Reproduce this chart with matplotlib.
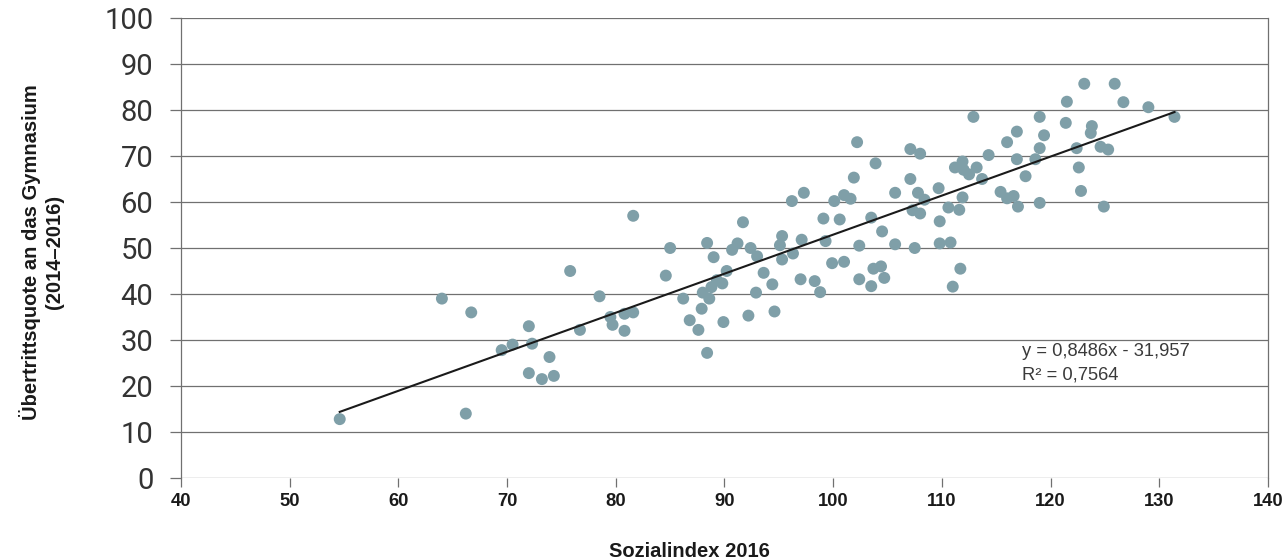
import matplotlib
matplotlib.use("Agg")
import matplotlib.pyplot as plt
import numpy as np

sozialindex = [
    54.6, 64.0, 66.2, 66.7, 69.5, 70.5, 72.0, 72.3, 72.0, 73.2, 73.9, 74.3, 75.8, 76.7,
    78.5, 79.5, 79.7, 80.8, 80.8, 81.6, 81.6, 84.6, 85.0, 86.2, 86.8, 87.6, 87.9, 88.0,
    88.4, 88.4, 88.6, 88.8, 89.0, 89.3, 89.9, 89.8, 90.2, 90.7, 91.2, 91.7, 92.2, 92.4,
    92.9, 93.0, 93.6, 94.4, 94.6, 95.1, 95.3, 95.3, 96.2, 96.3, 97.0, 97.1, 97.3, 98.3,
    98.8, 99.1, 99.3, 99.9, 100.1, 100.6, 101.0, 101.0, 101.6, 101.9, 102.2, 102.4, 102.4,
    103.5, 103.5, 103.7, 103.9, 104.4, 104.5, 104.7, 105.7, 105.7, 107.1, 107.1, 107.3,
    107.5, 107.8, 108.0, 108.0, 108.4, 109.7, 109.8, 109.8, 110.6, 110.8, 111.0, 111.2,
    111.6, 111.7, 111.9, 111.9, 112.0, 112.5, 112.9, 113.2, 113.7, 114.3, 115.4, 116.0,
    116.0, 116.6, 116.9, 116.9, 117.0, 117.7, 118.6, 119.0, 119.0, 119.0, 119.4, 121.4,
    121.5, 122.4, 122.6, 122.8, 123.1, 123.7, 123.8, 124.6, 124.9, 125.3, 125.9, 126.7,
    129.0, 131.4,
]
quote = [
    12.8, 39.0, 14.0, 36.0, 27.8, 29.0, 33.0, 29.2, 22.8, 21.5, 26.3, 22.2, 45.0, 32.2,
    39.5, 35.0, 33.3, 35.7, 32.0, 36.0, 57.0, 44.0, 50.0, 39.0, 34.3, 32.2, 36.8, 40.3,
    51.1, 27.2, 39.0, 41.5, 48.0, 43.0, 33.9, 42.3, 45.0, 49.6, 51.0, 55.6, 35.3, 50.0,
    40.3, 48.2, 44.6, 42.1, 36.2, 50.6, 52.6, 47.5, 60.2, 48.8, 43.2, 51.8, 62.0, 42.8,
    40.4, 56.4, 51.5, 46.7, 60.2, 56.2, 61.5, 47.0, 60.7, 65.3, 73.0, 50.5, 43.2,
    56.6, 41.7, 45.5, 68.4, 46.0, 53.6, 43.5, 62.0, 50.8, 71.5, 65.0, 58.2,
    50.0, 62.0, 70.5, 57.5, 60.5, 63.0, 55.8, 51.0, 58.8, 51.2, 41.6, 67.5,
    58.3, 45.5, 68.8, 61.0, 67.0, 66.0, 78.5, 67.5, 65.0, 70.2, 62.2, 73.0,
    60.8, 61.3, 75.3, 69.3, 59.0, 65.6, 69.3, 78.5, 71.7, 59.8, 74.5, 77.2,
    81.8, 71.7, 67.5, 62.4, 85.7, 75.0, 76.5, 72.0, 59.0, 71.4, 85.7, 81.7,
    80.6, 78.5,
]
slope = 0.8486
intercept = -31.957
r2_text = "R² = 0,7564"
eq_text = "y = 0,8486x - 31,957"
x_ticks = list(range(40, 141, 10))
y_ticks = list(range(0, 101, 10))

fig = plt.figure(figsize=(12.84, 5.6), dpi=100)
ax = fig.add_axes([0.141, 0.1464, 0.8465, 0.8215])

grid_col = "#707070"
for yt in y_ticks:
    ax.axhline(yt, color=grid_col, lw=0.9, zorder=1)

ax.scatter(sozialindex, quote, s=74, color="#7f9fa8", edgecolors="none", zorder=3)

xs = np.array([min(sozialindex), max(sozialindex)])
ax.plot(xs, slope * xs + intercept, color="#1a1a1a", lw=1.5, zorder=4)

ax.set_xlim(40, 140)
ax.set_ylim(0, 100)
ax.set_xticks(x_ticks)
ax.set_yticks(y_ticks)
ax.set_xticklabels([str(v) for v in x_ticks], fontsize=13.2, fontweight="bold",
                   color="#1a1a1a", family="Liberation Sans")
ax.set_yticklabels([str(v) for v in y_ticks], fontsize=21, color="#333333",
                   family="Roboto", fontweight="normal")
ax.tick_params(axis="y", length=8, width=0.9, color=grid_col, pad=12)
ax.tick_params(axis="x", length=6.5, width=0.9, color=grid_col, pad=4)

for s in ["top", "bottom"]:
    ax.spines[s].set_visible(False)
for s in ["left", "right"]:
    ax.spines[s].set_color(grid_col)
    ax.spines[s].set_linewidth(0.9)

ax.text(117.4, 27.4, eq_text, fontsize=13.2, color="#3a3a3a", family="Liberation Sans",
        va="center")
ax.text(117.4, 22.3, r2_text, fontsize=13.2, color="#3a3a3a", family="Liberation Sans",
        va="center")

fig.text(0.537, 0.0143, "Sozialindex 2016", ha="center", va="center", fontsize=14.5,
         fontweight="bold", color="#1a1a1a", family="Liberation Sans")
fig.text(0.0323, 0.55, "Übertrittsquote an das Gymnasium\n(2014–2016)", ha="center",
         va="center", rotation=90, fontsize=14.5, fontweight="bold", color="#1a1a1a",
         family="Liberation Sans", linespacing=1.3)

fig.savefig("out.png", dpi=100, facecolor="white")
